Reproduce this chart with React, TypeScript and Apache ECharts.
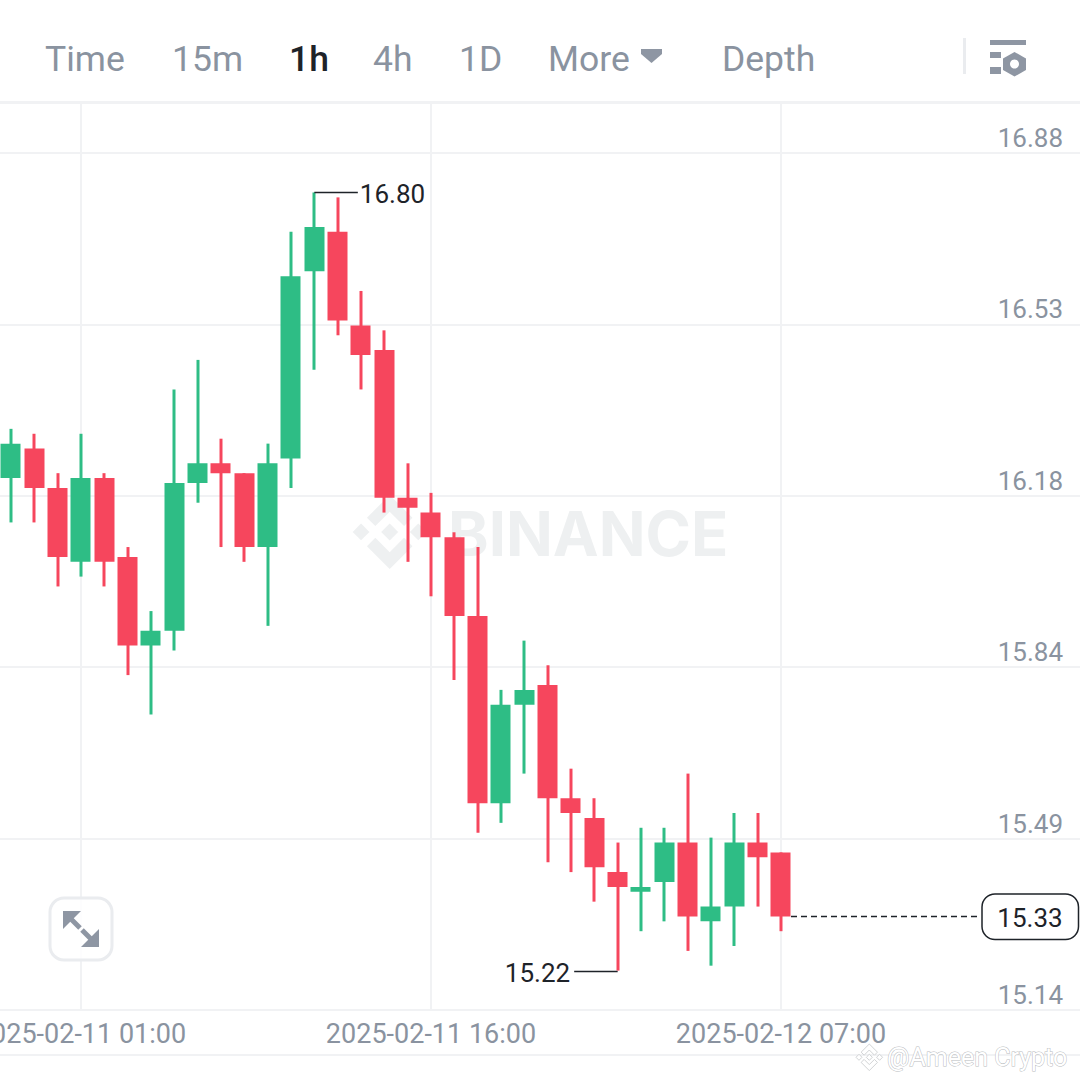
import React, { useEffect, useRef } from "react";
import * as echarts from "echarts";

const categories = [
  "2025-02-10 22:00", "2025-02-10 23:00", "2025-02-11 00:00", "2025-02-11 01:00", "2025-02-11 02:00",
  "2025-02-11 03:00", "2025-02-11 04:00", "2025-02-11 05:00", "2025-02-11 06:00", "2025-02-11 07:00",
  "2025-02-11 08:00", "2025-02-11 09:00", "2025-02-11 10:00", "2025-02-11 11:00", "2025-02-11 12:00",
  "2025-02-11 13:00", "2025-02-11 14:00", "2025-02-11 15:00", "2025-02-11 16:00", "2025-02-11 17:00",
  "2025-02-11 18:00", "2025-02-11 19:00", "2025-02-11 20:00", "2025-02-11 21:00", "2025-02-11 22:00",
  "2025-02-11 23:00", "2025-02-12 00:00", "2025-02-12 01:00", "2025-02-12 02:00", "2025-02-12 03:00",
  "2025-02-12 04:00", "2025-02-12 05:00", "2025-02-12 06:00", "2025-02-12 07:00", "2025-02-12 08:00",
  "2025-02-12 09:00", "2025-02-12 10:00", "2025-02-12 11:00", "2025-02-12 12:00", "2025-02-12 13:00",
  "2025-02-12 14:00", "2025-02-12 15:00", "2025-02-12 16:00", "2025-02-12 17:00", "2025-02-12 18:00",
  "2025-02-12 19:00", "2025-02-12 20:00",
];
const labelledTimes = ["2025-02-11 01:00", "2025-02-11 16:00", "2025-02-12 07:00"];
const priceTicks = [15.14, 15.488, 15.836, 16.184, 16.532, 16.88];

const opens = [16.22, 16.28, 16.2, 16.05, 16.22, 16.06, 15.88, 15.91, 16.21, 16.25, 16.23, 16.08, 16.26, 16.64, 16.72, 16.53, 16.48, 16.18, 16.15, 16.1, 15.94, 15.56, 15.76, 15.8, 15.57, 15.53, 15.42, 15.38, 15.4, 15.48, 15.32, 15.35, 15.48, 15.46];
const closes = [16.29, 16.2, 16.06, 16.22, 16.05, 15.88, 15.91, 16.21, 16.25, 16.23, 16.08, 16.25, 16.63, 16.73, 16.54, 16.47, 16.18, 16.16, 16.1, 15.94, 15.56, 15.76, 15.79, 15.57, 15.54, 15.43, 15.39, 15.39, 15.48, 15.33, 15.35, 15.48, 15.45, 15.33];
const lows = [16.13, 16.13, 16.0, 16.02, 16.0, 15.82, 15.74, 15.87, 16.17, 16.08, 16.05, 15.92, 16.2, 16.44, 16.51, 16.4, 16.15, 16.05, 15.98, 15.81, 15.5, 15.52, 15.62, 15.44, 15.42, 15.36, 15.22, 15.3, 15.32, 15.26, 15.23, 15.27, 15.35, 15.3];
const highs = [16.32, 16.31, 16.23, 16.31, 16.23, 16.08, 15.95, 16.4, 16.46, 16.3, 16.23, 16.29, 16.72, 16.8, 16.79, 16.6, 16.52, 16.25, 16.19, 16.11, 16.08, 15.79, 15.89, 15.84, 15.63, 15.57, 15.48, 15.51, 15.51, 15.62, 15.49, 15.54, 15.54, 15.46];

const extremes = [
  { label: "16.80", index: 13, value: 16.8, side: 1 },
  { label: "15.22", index: 26, value: 15.22, side: -1 },
];
const tabs = [
  { text: "Time", x: 45, active: false },
  { text: "15m", x: 172, active: false },
  { text: "1h", x: 289, active: true },
  { text: "4h", x: 373, active: false },
  { text: "1D", x: 459, active: false },
  { text: "More", x: 548, active: false },
  { text: "Depth", x: 722, active: false },
];

const UP = "#2EBD85";
const DOWN = "#F6465D";
const GRID = "#F1F2F4";
const MUTED = "#8A93A0";
const INK = "#1E2329";
const FONT = "Roboto";

const LOGO =
  "M38.73 53.2l24.59-24.58 24.6 24.6 14.3-14.31L63.32 0 24.42 38.9zM0 63.31l14.3-14.31 14.31 14.31L14.3 77.61zM38.73 73.41l24.59 24.59 24.6-24.6 14.31 14.29-38.9 38.91-38.91-38.88-.02-.02zM97.99 63.31l14.3-14.31 14.32 14.31-14.31 14.3zM77.83 63.3L63.32 48.78 52.59 59.51l-1.24 1.23-2.54 2.54 14.51 14.5 14.51-14.52z";
echarts.graphic.registerShape("binanceLogo", echarts.graphic.extendPath(LOGO, {}) as any);

function extremeItem(params: any, api: any) {
  const d = extremes[params.dataIndex];
  const p = api.coord([api.value(0), api.value(1)]);
  const lineEnd = p[0] + d.side * 43.5;
  const y = Math.round(p[1]) + 0.5;
  return {
    type: "group",
    children: [
      { type: "line", shape: { x1: p[0], y1: y, x2: lineEnd, y2: y }, style: { stroke: INK, lineWidth: 1.4 } },
      {
        type: "text",
        x: lineEnd + (d.side > 0 ? 2 : -4),
        y: y + 1.5,
        style: {
          text: d.label,
          fill: INK,
          font: `26px ${FONT}`,
          textAlign: d.side > 0 ? "left" : "right",
          textVerticalAlign: "middle",
        },
      },
    ],
  };
}

function lastPriceItem(_params: any, api: any) {
  const p = api.coord([api.value(0), api.value(1)]);
  const y = Math.round(p[1]) + 0.5;
  return {
    type: "group",
    children: [
      { type: "line", shape: { x1: p[0] + 10, y1: y, x2: 980, y2: y }, style: { stroke: INK, lineWidth: 1.4, lineDash: [6, 4] } },
      { type: "rect", shape: { x: 982, y: y - 22.5, width: 96.5, height: 45.5, r: 13 }, style: { fill: "#fff", stroke: INK, lineWidth: 1.5 } },
      {
        type: "text",
        x: 1030,
        y: y + 1,
        style: { text: api.value(1).toFixed(2), fill: INK, font: `26px ${FONT}`, textAlign: "center", textVerticalAlign: "middle" },
      },
    ],
  };
}

export default function App() {
  const ref = useRef<HTMLDivElement>(null);
  useEffect(() => {
    document.body.style.margin = "0";
    const chart = echarts.init(ref.current!, undefined, { renderer: "svg" });
    const n = closes.length - 1;
    const isLabelled = (i: number) => labelledTimes.includes(categories[i]);
    const graphicTop: any[] = tabs.map((t) => ({
      type: "text",
      x: t.x,
      y: 59,
      z: 20,
      style: {
        text: t.text,
        fill: t.active ? INK : MUTED,
        font: `${t.active ? 500 : 400} 35.5px ${FONT}`,
        textAlign: "left",
        textVerticalAlign: "middle",
      },
    }));
    chart.setOption({
      animation: false,
      backgroundColor: "#fff",
      grid: { left: -0.67, right: -16, top: 103.8, bottom: 70, outerBoundsMode: "none", containLabel: false },
      xAxis: {
        type: "category",
        data: categories,
        boundaryGap: true,
        axisLine: { show: true, lineStyle: { color: GRID, width: 2 } },
        axisTick: { show: false, alignWithLabel: true, interval: (i: number) => isLabelled(i) },
        axisLabel: {
          show: true,
          interval: (i: number) => isLabelled(i),
          formatter: (v: string) => v,
          color: MUTED,
          fontFamily: FONT,
          fontSize: 27,
          margin: 10,
          hideOverlap: false,
        },
        splitLine: {
          show: true,
          alignWithLabel: true,
          interval: (i: number) => isLabelled(i),
          lineStyle: { color: GRID, width: 2 },
        },
      },
      yAxis: {
        type: "value",
        position: "right",
        min: 15.14,
        max: 16.98,
        scale: true,
        axisLine: { show: false },
        axisTick: { show: false, customValues: priceTicks },
        axisLabel: {
          show: true,
          inside: true,
          customValues: priceTicks,
          formatter: (v: number) => v.toFixed(2),
          color: MUTED,
          fontFamily: FONT,
          fontSize: 26,
          margin: 33,
          verticalAlign: "bottom",
          lineHeight: 26,
          padding: [0, 0, 2, 0],
        },
        splitLine: { show: true, lineStyle: { color: GRID, width: 2 } },
      },
      series: [
        {
          name: "Wicks",
          type: "candlestick",
          barWidth: 3.6,
          z: 3,
          itemStyle: { color: UP, color0: DOWN, borderColor: UP, borderColor0: DOWN, borderWidth: 0 },
          data: closes.map((c, i) =>
            c >= opens[i] ? [lows[i], highs[i], lows[i], highs[i]] : [highs[i], lows[i], lows[i], highs[i]]
          ),
        },
        {
          name: "Candles",
          type: "candlestick",
          barWidth: 20.5,
          z: 4,
          itemStyle: { color: UP, color0: DOWN, borderColor: UP, borderColor0: DOWN, borderWidth: 0 },
          data: closes.map((c, i) => [opens[i], c, lows[i], highs[i]]),
        },
        {
          name: "Extremes",
          type: "custom",
          z: 6,
          clip: false,
          renderItem: extremeItem,
          encode: { x: 0, y: 1 },
          data: extremes.map((e) => [e.index, e.value]),
        },
        {
          name: "Last price",
          type: "custom",
          z: 6,
          clip: false,
          renderItem: lastPriceItem,
          encode: { x: 0, y: 1 },
          data: [[n, closes[n]]],
        },
      ],
      graphic: [
        // BINANCE watermark under the candles
        { type: "binanceLogo", x: 352.7, y: 495, scaleX: 0.584, scaleY: 0.584, z: 1, style: { fill: "#EEF0F1" } },
        {
          type: "text",
          x: 448,
          y: 533,
          z: 1,
          style: { text: "BINANCE", fill: "#EEF0F1", font: `700 61.5px Inter`, textAlign: "left", textVerticalAlign: "middle" },
        },
        // frame lines
        { type: "rect", shape: { x: 0, y: 101, width: 1080, height: 3 }, z: 20, style: { fill: GRID } },
        { type: "rect", shape: { x: 0, y: 1054, width: 1080, height: 2 }, z: 20, style: { fill: GRID } },
        ...graphicTop,
        // dropdown triangle, divider, settings icon
        { type: "polygon", shape: { points: [[641, 49], [662, 49], [662, 54], [651.5, 63], [641, 54]] }, z: 20, style: { fill: "#8E96A3" } },
        { type: "rect", shape: { x: 963, y: 38, width: 3, height: 36 }, z: 20, style: { fill: "#EAECEF" } },
        { type: "rect", shape: { x: 990, y: 40, width: 36, height: 5 }, z: 20, style: { fill: "#8E96A3" } },
        { type: "rect", shape: { x: 990, y: 52, width: 11, height: 6 }, z: 20, style: { fill: "#8E96A3" } },
        { type: "rect", shape: { x: 990, y: 67, width: 11, height: 7 }, z: 20, style: { fill: "#8E96A3" } },
        { type: "polygon", shape: { points: [[1014.5, 52], [1026, 58.5], [1026, 70], [1014.5, 76.5], [1003, 70], [1003, 58.5]] }, z: 20, style: { fill: "#8E96A3" } },
        { type: "circle", shape: { cx: 1014.5, cy: 64, r: 4.5 }, z: 21, style: { fill: "#fff" } },
        // expand button
        { type: "rect", shape: { x: 50, y: 898, width: 62, height: 62, r: 14 }, z: 20, style: { fill: "rgba(255,255,255,0.85)", stroke: "#EAECEF", lineWidth: 3 } },
        { type: "polygon", shape: { points: [[63, 911], [81, 911], [63, 929]] }, z: 21, style: { fill: "#8E96A3" } },
        { type: "polygon", shape: { points: [[99, 947], [81, 947], [99, 929]] }, z: 21, style: { fill: "#8E96A3" } },
        { type: "line", shape: { x1: 70, y1: 918, x2: 80, y2: 928 }, z: 21, style: { stroke: "#8E96A3", lineWidth: 5 } },
        { type: "line", shape: { x1: 82, y1: 930, x2: 92, y2: 940 }, z: 21, style: { stroke: "#8E96A3", lineWidth: 5 } },
        // source watermark
        { type: "binanceLogo", x: 856, y: 1044, scaleX: 0.21, scaleY: 0.21, z: 22, style: { fill: "#fff", stroke: "#C8CACD", lineWidth: 4 } },
        {
          type: "text",
          x: 887,
          y: 1057,
          z: 22,
          style: {
            text: "@Ameen Crypto",
            fill: "#fff",
            stroke: "#B9BCC0",
            lineWidth: 1,
            font: `25px ${FONT}`,
            textAlign: "left",
            textVerticalAlign: "middle",
          },
        },
      ],
    });
    return () => chart.dispose();
  }, []);
  return <div ref={ref} style={{ width: 1080, height: 1080, background: "#fff" }} />;
}
